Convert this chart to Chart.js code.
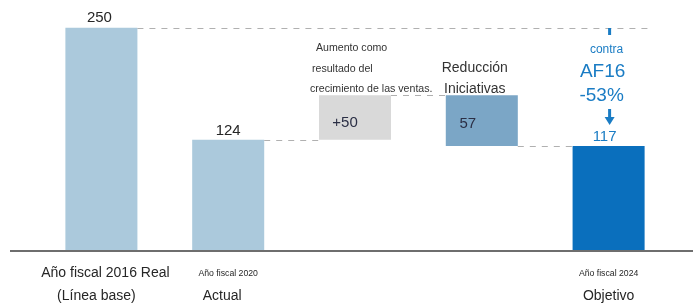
<!DOCTYPE html>
<html lang="es">
<head>
  <meta charset="UTF-8" />
  <title>Año fiscal – cascada</title>
  <script src="https://cdn.jsdelivr.net/npm/chart.js"></script>
  <style>
    * { box-sizing: border-box; }
    html, body { margin: 0; padding: 0; background: #fff; }
    #wrap { position: relative; width: 693px; height: 307px; }
    canvas { display: block; }
  </style>
</head>
<body>
  <div id="wrap">
    <canvas id="chart" width="693" height="307"></canvas>
  </div>

  <script>
    // data
    const categories = ['FY2016', 'FY2020', 'Ventas', 'Iniciativas', 'FY2024'];
    const values = [250, 124, 50, -57, 117];
    const kinds = ['total', 'total', 'delta', 'delta', 'total'];
    const valueLabels = ['250', '124', '+50', '57', '117'];
    const axisLine1 = ['Año fiscal 2016 Real', 'Año fiscal 2020', '', '', 'Año fiscal 2024'];
    const axisLine2 = ['(Línea base)', 'Actual', '', '', 'Objetivo'];
    const barColors = ['#abc9dc', '#abc9dc', '#d9d9d9', '#7ba6c6', '#0a6fbd'];

    // build floating ranges for the waterfall
    let running = 0;
    const ranges = values.map((v, i) => {
      if (kinds[i] === 'total') {
        running = v;
        return [0, v];
      }
      const start = running;
      running = running + v;
      return [Math.min(start, running), Math.max(start, running)];
    });
    const levels = [];
    running = 0;
    values.forEach((v, i) => {
      running = kinds[i] === 'total' ? v : running + v;
      levels.push(running);
    });

    const FONT = "'Liberation Sans', Arial, sans-serif";
    const BLUE = '#1a7cc4';

    const waterfallPlugin = {
      id: 'waterfall',
      afterDatasetsDraw(chart) {
        const ctx = chart.ctx;
        const meta = chart.getDatasetMeta(0);
        const y = chart.scales.y;
        const area = chart.chartArea;
        const bars = meta.data;
        ctx.save();

        // dashed connectors
        ctx.strokeStyle = '#b0b0b0';
        ctx.lineWidth = 1;
        ctx.setLineDash([6, 6]);
        const half = b => b.width / 2;
        // baseline reference (first total) carried to the target bar
        let yy = Math.round(y.getPixelForValue(levels[0])) + 0.5;
        ctx.beginPath();
        ctx.moveTo(bars[0].x + half(bars[0]), yy);
        ctx.lineTo(bars[4].x + half(bars[4]) + 5, yy);
        ctx.stroke();
        for (let i = 1; i < bars.length - 1; i++) {
          yy = Math.round(y.getPixelForValue(levels[i])) + 0.5;
          ctx.beginPath();
          ctx.moveTo(bars[i].x + half(bars[i]), yy);
          ctx.lineTo(bars[i + 1].x - half(bars[i + 1]), yy);
          ctx.stroke();
        }
        ctx.setLineDash([]);

        // axis line
        ctx.strokeStyle = '#6e6e6e';
        ctx.lineWidth = 2;
        ctx.beginPath();
        ctx.moveTo(10, area.bottom + 1);
        ctx.lineTo(chart.width, area.bottom + 1);
        ctx.stroke();

        // value labels
        ctx.textAlign = 'center';
        ctx.textBaseline = 'middle';
        ctx.font = '15px ' + FONT;
        ctx.fillStyle = '#262626';
        ctx.fillText(valueLabels[0], bars[0].x - 2, bars[0].y - 10);
        ctx.fillText(valueLabels[1], bars[1].x, bars[1].y - 9);
        ctx.fillStyle = '#2b2f45';
        ctx.fillText(valueLabels[2], bars[2].x - 10, (bars[2].y + bars[2].base) / 2 + 5);
        ctx.fillText(valueLabels[3], bars[3].x - 14, (bars[3].y + bars[3].base) / 2 + 3);
        ctx.fillStyle = BLUE;
        ctx.fillText(valueLabels[4], bars[4].x - 4, bars[4].y - 9);

        // notes above bars
        ctx.fillStyle = '#333333';
        ctx.textAlign = 'left';
        ctx.font = '10.6px ' + FONT;
        ctx.fillText('Aumento como', 316, 48);
        ctx.fillText('resultado del', 312, 69);
        ctx.fillText('crecimiento de las ventas.', 310, 89);
        ctx.textAlign = 'center';
        ctx.font = '14px ' + FONT;
        ctx.fillText('Reducción', bars[3].x - 7, 68);
        ctx.fillText('Iniciativas', bars[3].x - 7, 89);

        // target annotation
        const bx = bars[4].x + 1;
        ctx.fillStyle = BLUE;
        ctx.fillRect(bx - 1.5, 28, 3, 7);
        ctx.font = '12px ' + FONT;
        ctx.fillText('contra', bx - 3, 50);
        ctx.font = '19px ' + FONT;
        ctx.fillText('AF16', bx - 7, 72);
        ctx.fillText('-53%', bx - 8, 96);
        ctx.fillRect(bx - 1.5, 109, 3, 10);
        ctx.beginPath();
        ctx.moveTo(bx - 5, 117);
        ctx.lineTo(bx + 5, 117);
        ctx.lineTo(bx, 125);
        ctx.closePath();
        ctx.fill();

        // category labels
        ctx.fillStyle = '#262626';
        bars.forEach((b, i) => {
          if (!axisLine1[i]) return;
          if (i === 0) {
            ctx.font = '14px ' + FONT;
            ctx.fillText(axisLine1[i], b.x + 4, 273);
            ctx.fillText(axisLine2[i], b.x - 5, 296);
          } else {
            ctx.font = '8.7px ' + FONT;
            ctx.fillText(axisLine1[i], b.x, 274);
            ctx.font = '14px ' + FONT;
            ctx.fillText(axisLine2[i], b.x - 6 + (i === 4 ? 6 : 0), 296);
          }
        });
        ctx.restore();
      }
    };

    new Chart(document.getElementById('chart'), {
      type: 'bar',
      data: {
        labels: categories,
        datasets: [{
          data: ranges,
          backgroundColor: barColors,
          borderWidth: 0,
          borderSkipped: false,
          barPercentage: 0.568,
          categoryPercentage: 1
        }]
      },
      options: {
        responsive: false,
        animation: false,
        layout: { padding: { left: 38, right: 21, top: 10, bottom: 57 } },
        scales: {
          x: { display: false },
          y: { display: false, min: 0, max: 270 }
        },
        plugins: {
          legend: { display: false },
          tooltip: { enabled: false }
        }
      },
      plugins: [waterfallPlugin]
    });
  </script>
</body>
</html>
